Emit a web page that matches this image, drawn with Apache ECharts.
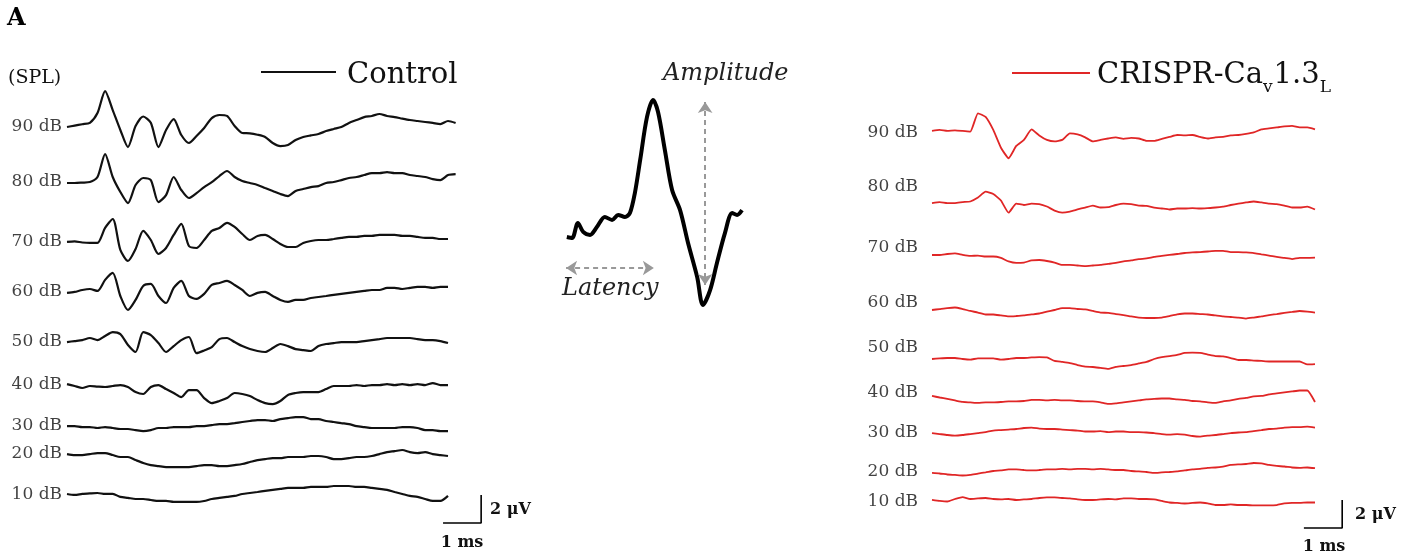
<!DOCTYPE html>
<html>
<head>
<meta charset="utf-8">
<script src="https://cdn.jsdelivr.net/npm/echarts@6/dist/echarts.min.js"></script>
<style>html,body{margin:0;padding:0;background:#fff}#c{width:1421px;height:558px}</style>
</head>
<body>
<div id="c"></div>
<script>
// ---------------- DATA ----------------
const STEP_MS = 0.2;                       // sampling interval of every trace (ms)
const levels = ['90 dB','80 dB','70 dB','60 dB','50 dB','40 dB','30 dB','20 dB','10 dB'];

// Control traces (µV, relative to each trace's own baseline), one sample every 0.2 ms
const ctrl90 = [0,0.1,0.2,0.3,1.0,2.57,1.21,-0.21,-1.43,0.07,0.75,0.3,-1.43,-0.21,0.57,-0.57,-1.14,-0.64,-0.07,0.64,0.86,0.79,0.07,-0.43,-0.45,-0.55,-0.71,-1.14,-1.36,-1.29,-0.93,-0.71,-0.6,-0.5,-0.29,-0.14,0,0.29,0.5,0.71,0.79,0.93,0.79,0.71,0.6,0.5,0.43,0.36,0.29,0.21,0.43,0.29];
const ctrl80 = [-0.07,-0.07,-0.04,0,0.36,2.0,0.36,-0.71,-1.5,-0.21,0.29,0.14,-1.43,-0.93,0.36,-0.57,-1.14,-0.79,-0.36,0,0.43,0.79,0.36,0.07,-0.07,-0.21,-0.43,-0.64,-0.86,-1.0,-0.64,-0.5,-0.36,-0.29,-0.07,0,0.14,0.29,0.36,0.5,0.64,0.64,0.71,0.64,0.64,0.5,0.43,0.36,0.21,0.14,0.5,0.57];
const ctrl70 = [0,0.04,-0.04,-0.07,-0.07,1.0,1.64,-0.57,-1.36,-0.5,0.79,0.14,-0.86,-0.43,0.5,1.29,-0.29,-0.43,0.14,0.79,1.0,1.36,1.07,0.57,0.14,0.43,0.5,0.21,-0.14,-0.36,-0.36,-0.07,0.07,0.14,0.14,0.21,0.29,0.36,0.36,0.43,0.43,0.5,0.5,0.5,0.43,0.43,0.36,0.29,0.29,0.21,0.21];
const ctrl60 = [-0.07,0,0.14,0.21,0.07,0.86,1.36,-0.29,-1.29,-0.57,0.43,0.57,-0.29,-0.79,0.29,0.79,-0.29,-0.5,-0.14,0.5,0.64,0.79,0.5,0.14,-0.29,-0.07,0,-0.29,-0.57,-0.71,-0.57,-0.57,-0.43,-0.36,-0.29,-0.21,-0.14,-0.07,0,0.07,0.14,0.14,0.29,0.29,0.21,0.29,0.36,0.36,0.29,0.36,0.36];
const ctrl50 = [0,0.07,0.14,0.29,0.14,0.43,0.71,0.57,-0.21,-0.71,0.71,0.5,-0.07,-0.71,-0.29,0.14,0.36,-0.79,-0.6,-0.36,0.21,0.29,0,-0.29,-0.5,-0.64,-0.71,-0.43,-0.14,-0.29,-0.5,-0.57,-0.64,-0.29,-0.14,-0.07,0,0,0,0.07,0.14,0.21,0.29,0.29,0.29,0.29,0.21,0.14,0.14,0.07,-0.07];
const ctrl40 = [0.07,-0.07,-0.21,-0.07,-0.11,-0.14,-0.07,0,-0.14,-0.5,-0.64,-0.14,0,-0.29,-0.57,-0.86,-0.36,-0.36,-0.93,-1.29,-1.14,-0.93,-0.57,-0.64,-0.79,-1.07,-1.29,-1.36,-1.14,-0.71,-0.57,-0.5,-0.5,-0.5,-0.29,-0.07,-0.07,-0.07,0,-0.07,0,0,0.07,0,0.07,0,0.07,0,0.14,0,0];
const ctrl30 = [0,0,-0.07,-0.07,-0.14,-0.07,-0.14,-0.21,-0.21,-0.29,-0.36,-0.29,-0.14,-0.14,-0.07,-0.07,-0.07,0,0,0.07,0.14,0.14,0.21,0.29,0.36,0.43,0.43,0.36,0.5,0.57,0.64,0.64,0.5,0.5,0.36,0.29,0.21,0.14,0,-0.07,-0.14,-0.14,-0.14,-0.14,-0.07,-0.07,-0.14,-0.29,-0.29,-0.36,-0.36];
const ctrl20 = [0,-0.07,-0.07,0,0.07,0.07,-0.07,-0.21,-0.21,-0.43,-0.64,-0.79,-0.86,-0.93,-0.93,-0.93,-0.93,-0.86,-0.79,-0.79,-0.86,-0.86,-0.79,-0.71,-0.57,-0.43,-0.36,-0.29,-0.29,-0.21,-0.21,-0.21,-0.14,-0.14,-0.21,-0.36,-0.36,-0.29,-0.21,-0.21,-0.14,0,0.14,0.21,0.29,0.14,0.07,0.14,0,-0.07,-0.14];
const ctrl10 = [0.07,0,0.07,0.11,0.14,0.07,0.07,-0.14,-0.21,-0.29,-0.29,-0.36,-0.43,-0.43,-0.5,-0.5,-0.5,-0.5,-0.43,-0.29,-0.21,-0.14,-0.07,0.07,0.14,0.21,0.29,0.36,0.43,0.5,0.5,0.5,0.57,0.57,0.57,0.64,0.64,0.64,0.57,0.57,0.5,0.43,0.36,0.21,0.07,-0.07,-0.14,-0.29,-0.43,-0.43,-0.07];

// CRISPR-Cav1.3L traces (µV)
const cr90 = [0,0.07,0,0.04,0,-0.05,1.26,1.0,0.07,-1.2,-1.95,-1.07,-0.64,0.11,-0.32,-0.64,-0.75,-0.64,-0.18,-0.25,-0.46,-0.75,-0.64,-0.54,-0.46,-0.57,-0.5,-0.54,-0.71,-0.71,-0.57,-0.43,-0.29,-0.32,-0.29,-0.43,-0.54,-0.46,-0.43,-0.32,-0.29,-0.21,-0.11,0.11,0.18,0.25,0.32,0.36,0.25,0.25,0.11];
const cr80 = [0,0.07,0,0,0.07,0.11,0.39,0.81,0.64,0.18,-0.69,-0.04,-0.14,-0.04,-0.07,-0.25,-0.54,-0.68,-0.61,-0.46,-0.32,-0.18,-0.32,-0.29,-0.14,-0.04,-0.07,-0.18,-0.21,-0.32,-0.39,-0.46,-0.39,-0.39,-0.36,-0.39,-0.36,-0.32,-0.25,-0.14,-0.04,0.04,0.11,0.04,-0.04,-0.07,-0.18,-0.32,-0.32,-0.25,-0.46];
const cr70 = [0,0,0.07,0.11,0,-0.07,-0.04,-0.11,-0.11,-0.21,-0.46,-0.57,-0.54,-0.39,-0.36,-0.43,-0.54,-0.71,-0.71,-0.75,-0.79,-0.75,-0.71,-0.64,-0.57,-0.46,-0.39,-0.29,-0.25,-0.14,-0.07,0,0.07,0.14,0.18,0.21,0.25,0.29,0.29,0.21,0.21,0.18,0.14,0.04,-0.04,-0.14,-0.21,-0.29,-0.21,-0.21,-0.19];
const cr60 = [0,0.07,0.14,0.18,0.07,-0.07,-0.18,-0.32,-0.32,-0.39,-0.46,-0.43,-0.39,-0.32,-0.25,-0.11,0,0.14,0.14,0.07,0.04,-0.07,-0.18,-0.21,-0.29,-0.36,-0.46,-0.54,-0.57,-0.57,-0.54,-0.43,-0.32,-0.25,-0.25,-0.29,-0.32,-0.39,-0.46,-0.5,-0.54,-0.61,-0.54,-0.46,-0.36,-0.29,-0.21,-0.14,-0.07,-0.11,-0.18];
const cr50 = [0,0.04,0.07,0.07,0,-0.04,0.04,0.04,0.04,-0.04,0,0.07,0.07,0.11,0.14,0.11,-0.14,-0.21,-0.29,-0.43,-0.54,-0.57,-0.64,-0.71,-0.57,-0.5,-0.43,-0.32,-0.21,0,0.14,0.21,0.29,0.43,0.46,0.43,0.32,0.21,0.18,0.07,-0.07,-0.07,-0.11,-0.14,-0.18,-0.18,-0.18,-0.18,-0.18,-0.39,-0.36];
const cr40 = [0.07,-0.04,-0.14,-0.25,-0.36,-0.39,-0.43,-0.39,-0.39,-0.36,-0.32,-0.32,-0.29,-0.21,-0.21,-0.25,-0.21,-0.25,-0.25,-0.29,-0.32,-0.32,-0.39,-0.5,-0.46,-0.39,-0.32,-0.25,-0.18,-0.14,-0.11,-0.11,-0.18,-0.21,-0.29,-0.32,-0.39,-0.43,-0.32,-0.25,-0.14,-0.07,0.04,0.07,0.18,0.25,0.32,0.39,0.46,0.46,-0.36];
const cr30 = [0,-0.07,-0.14,-0.18,-0.14,-0.07,0,0.07,0.18,0.21,0.25,0.29,0.36,0.39,0.32,0.29,0.29,0.25,0.21,0.18,0.11,0.11,0.14,0.07,0.11,0.11,0.07,0.07,0.04,0,-0.07,-0.11,-0.07,-0.11,-0.21,-0.25,-0.18,-0.14,-0.07,0,0.04,0.07,0.14,0.21,0.29,0.32,0.39,0.43,0.43,0.46,0.39];
const cr20 = [0,-0.04,-0.11,-0.14,-0.18,-0.14,-0.04,0.04,0.14,0.18,0.25,0.25,0.21,0.18,0.21,0.25,0.25,0.29,0.25,0.29,0.29,0.25,0.29,0.25,0.21,0.21,0.14,0.11,0.07,0,0.04,0.07,0.11,0.18,0.25,0.29,0.36,0.39,0.46,0.57,0.61,0.64,0.71,0.68,0.57,0.5,0.46,0.39,0.36,0.39,0.34];
const cr10 = [0,-0.07,-0.11,0.07,0.21,0.07,0.11,0.14,0.07,0.04,0.07,0,0.04,0.07,0.14,0.18,0.18,0.14,0.11,0.04,0,0,0.04,0.07,0.04,0.11,0.11,0.07,0.07,0.04,-0.07,-0.18,-0.21,-0.25,-0.21,-0.18,-0.25,-0.36,-0.36,-0.32,-0.36,-0.36,-0.39,-0.39,-0.39,-0.36,-0.25,-0.21,-0.21,-0.18,-0.18];

// Schematic wave I (illustrative units)
const schemT = [0.18,0.32,0.47,0.61,0.79,0.97,1.18,1.37,1.53,1.71,1.84,1.97,2.11,2.29,2.45,2.58,2.76,2.95,3.16,3.37,3.61,3.76,3.95,4.13,4.34,4.53,4.66,4.79];
const schemV = [3.61,3.57,4.22,3.83,3.70,4.04,4.48,4.35,4.57,4.48,4.65,5.52,6.96,8.83,9.57,9.04,7.39,5.65,4.78,3.35,1.87,0.65,1.30,2.48,3.78,4.65,4.57,4.78];

// Scale bars: 1 ms by 2 µV
const scaleMs = 1, scaleUv = 2;

// ---------------- LAYOUT (vertical stacking offsets, µV units) ----------------
const ctrlTraces = [ctrl90,ctrl80,ctrl70,ctrl60,ctrl50,ctrl40,ctrl30,ctrl20,ctrl10];
const crTraces   = [cr90,cr80,cr70,cr60,cr50,cr40,cr30,cr20,cr10];
const ctrlBase   = [29.07,25.14,20.86,17.29,13.71,10.64,7.71,5.71,2.79];
const crBase     = [28.79,23.64,19.93,16.0,12.5,9.79,7.21,4.36,2.43];
const crLabelPos = [28.64,24.79,20.43,16.5,13.29,10.07,7.21,4.43,2.29];
const leftBarX = 9.87, leftBarY = 0.79, rightBarX = 9.71, rightBarY = 0.43;

const BLACK = '#111111', RED = '#e02626';
const SERIF = '"DejaVu Serif", "Liberation Serif", serif';

function traceData(vals, off){ return vals.map((v,i)=>[+(i*STEP_MS).toFixed(2), +(v+off).toFixed(3)]); }

const series = [];
ctrlTraces.forEach((t,i)=>series.push({type:'line', xAxisIndex:0, yAxisIndex:0, data:traceData(t,ctrlBase[i]),
  showSymbol:false, symbol:'none', smooth:0.25, lineStyle:{color:BLACK,width:2.2}, silent:true, clip:false}));
crTraces.forEach((t,i)=>series.push({type:'line', xAxisIndex:1, yAxisIndex:1, data:traceData(t,crBase[i]),
  showSymbol:false, symbol:'none', smooth:0.15, lineStyle:{color:RED,width:1.8}, silent:true, clip:false}));

const lblStyle = {show:true, fontFamily:SERIF, fontSize:17, color:'#111'};
series.push({type:'scatter', xAxisIndex:0, yAxisIndex:0, symbolSize:0, silent:true,
  data:levels.map((l,i)=>({value:[0,ctrlBase[i]], name:l})),
  label:Object.assign({position:'left', distance:5, formatter:p=>p.name}, lblStyle)});
series.push({type:'scatter', xAxisIndex:1, yAxisIndex:1, symbolSize:0, silent:true,
  data:levels.map((l,i)=>({value:[0,crLabelPos[i]], name:l})),
  label:Object.assign({position:'left', distance:14, formatter:p=>p.name}, lblStyle)});

// scale bars
series.push({type:'line', xAxisIndex:0, yAxisIndex:0, symbol:'none', silent:true, clip:false,
  data:[[leftBarX,leftBarY],[leftBarX+scaleMs,leftBarY],[leftBarX+scaleMs,leftBarY+scaleUv]],
  lineStyle:{color:'#000',width:1.6}});
series.push({type:'line', xAxisIndex:1, yAxisIndex:1, symbol:'none', silent:true, clip:false,
  data:[[rightBarX,rightBarY],[rightBarX+scaleMs,rightBarY],[rightBarX+scaleMs,rightBarY+scaleUv]],
  lineStyle:{color:'#000',width:1.6}});

// schematic
series.push({type:'line', xAxisIndex:2, yAxisIndex:2, symbol:'none', silent:true, smooth:0.3, clip:false,
  data:schemT.map((t,i)=>[t,schemV[i]]), lineStyle:{color:'#000',width:4},
  markLine:{silent:true, symbol:['arrow','arrow'], symbolSize:[11,11], label:{show:false},
    lineStyle:{color:'#999',type:[5,4],width:2},
    data:[[{coord:[0.16,2.26]},{coord:[2.47,2.26]}],[{coord:[3.82,9.48]},{coord:[3.82,1.52]}]]}});

const txt = (x,y,text,font,opt)=>Object.assign({type:'text', x:x, y:y, silent:true,
  style:Object.assign({text:text, font:font, fill:'#111', textAlign:'left', align:'left', textVerticalAlign:'middle', verticalAlign:'middle'}, opt||{})});

const option = {
  animation:false,
  backgroundColor:'#fff',
  grid:[
    {left:67, top:58, width:11*38.1, height:476},
    {left:932, top:58, width:11*38.3, height:476},
    {left:560, top:90, width:190, height:230}
  ],
  xAxis:[
    {type:'value', gridIndex:0, min:0, max:11, show:false},
    {type:'value', gridIndex:1, min:0, max:11, show:false},
    {type:'value', gridIndex:2, min:0, max:5, show:false}
  ],
  yAxis:[
    {type:'value', gridIndex:0, min:0, max:34, show:false},
    {type:'value', gridIndex:1, min:0, max:34, show:false},
    {type:'value', gridIndex:2, min:0, max:10, show:false}
  ],
  series:series,
  graphic:[
    txt(7,19,'A','bold 24px '+SERIF,{fill:'#000'}),
    txt(8,78,'(SPL)','19px '+SERIF),
    {type:'line', silent:true, shape:{x1:261,y1:72,x2:336,y2:72}, style:{stroke:BLACK,lineWidth:2}},
    txt(347,75,'Control','29px '+SERIF),
    {type:'line', silent:true, shape:{x1:1012,y1:73,x2:1090,y2:73}, style:{stroke:RED,lineWidth:2}},
    txt(663,74,'Amplitude','italic 24px '+SERIF,{fill:'#222'}),
    txt(562,289,'Latency','italic 24px '+SERIF,{fill:'#222'}),
    txt(490,510,'2 \u03bcV','bold 16px '+SERIF),
    txt(462,543,'1 ms','bold 16px '+SERIF,{textAlign:'center',align:'center'}),
    txt(1355,515,'2 \u03bcV','bold 16px '+SERIF),
    txt(1324,547,'1 ms','bold 16px '+SERIF,{textAlign:'center',align:'center'})
  ]
};

// CRISPR-Cav1.3L legend text with subscripts
(function(){
  const ctx = document.createElement('canvas').getContext('2d');
  const w = (t,f)=>{ctx.font=f; return ctx.measureText(t).width;};
  const big = '29px DejaVu Serif', small = '17px DejaVu Serif';
  let x = 1097;
  const parts = [['CRISPR-Ca',big,0],['v',small,13],['1.3',big,0],['L',small,13]];
  parts.forEach(p=>{
    option.graphic.push(txt(x, 75+p[2], p[0], p[1]===big? '29px '+SERIF : '17px '+SERIF));
    x += w(p[0], p[1]) + (p[1]===small?1:0);
  });
})();

const chart = echarts.init(document.getElementById('c'), null, {renderer:'canvas'});
chart.setOption(option);
</script>
</body>
</html>
